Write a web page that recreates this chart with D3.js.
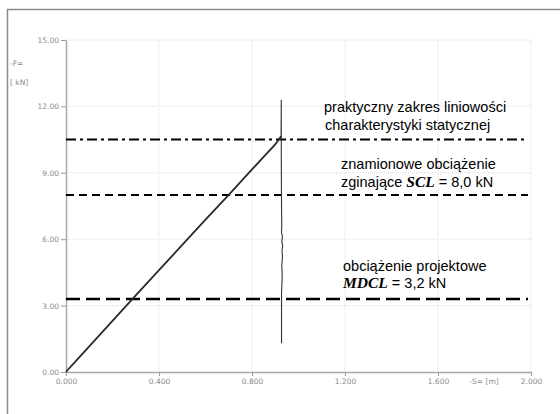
<!DOCTYPE html>
<html><head><meta charset="utf-8">
<script src="https://cdn.jsdelivr.net/npm/d3@7"></script>
<style>
html,body{margin:0;padding:0;background:#fff;}
svg{display:block;}
</style></head>
<body>
<svg id="c" width="560" height="414"></svg>
<script>
// ---- data ----
const xTicks = [0, 0.4, 0.8, 1.2, 1.6, 2.0];
const xTickLabels = ["0.000", "0.400", "0.800", "1.200", "1.600", "2.000"];
const yTicks = [0, 3, 6, 9, 12, 15];
const yTickLabels = ["0.00", "3.00", "6.00", "9.00", "12.00", "15.00"];

// loading curve S [m], F [kN]
const loadS = [0, 0.006, 0.05, 0.1, 0.2, 0.3, 0.4, 0.5, 0.6, 0.7, 0.8, 0.85, 0.9, 0.915, 0.925];
const loadF = [0, 0.08, 0.58, 1.16, 2.31, 3.46, 4.6, 5.74, 6.88, 8.0, 9.15, 9.72, 10.28, 10.5, 10.65];
// vertical break-down spike
const spikeS = [0.925, 0.926, 0.926, 0.927, 0.928, 0.927, 0.931, 0.928, 0.932, 0.929, 0.931, 0.928, 0.930, 0.927, 0.927];
const spikeF = [10.65, 12.3, 9.5, 7.5, 6.6, 6.3, 6.1, 5.9, 5.7, 5.5, 5.2, 4.8, 4.4, 3.5, 1.3];

// reference levels
const refLevels = [10.5, 8.0, 3.3];
const refNames = ["linearity", "SCL", "MDCL"];

// ---- layout ----
const svg = d3.select("#c");
const x = d3.scaleLinear().domain([0, 2]).range([66, 531]);
const y = d3.scaleLinear().domain([0, 15]).range([372, 40]);

// outer frame
svg.append("line").attr("x1", 7).attr("x2", 560).attr("y1", 9.5).attr("y2", 9.5)
  .attr("stroke", "#8a8a8a").attr("stroke-width", 1.5);
svg.append("line").attr("x1", 7.5).attr("x2", 7.5).attr("y1", 9).attr("y2", 414)
  .attr("stroke", "#8a8a8a").attr("stroke-width", 1.5);

// gridlines
const grid = svg.append("g");
xTicks.slice(1).forEach(t => {
  grid.append("line").attr("x1", x(t)).attr("x2", x(t)).attr("y1", y(15)).attr("y2", y(0))
    .attr("stroke", "#dcdcdc").attr("stroke-width", 1).attr("stroke-dasharray", "1,1");
});
yTicks.slice(1).forEach(t => {
  grid.append("line").attr("x1", x(0)).attr("x2", x(2)).attr("y1", y(t)).attr("y2", y(t))
    .attr("stroke", "#dcdcdc").attr("stroke-width", 1).attr("stroke-dasharray", "1,1");
});

// axes
const axStyle = g => {
  g.select(".domain").attr("stroke", "#a8a8a8").attr("stroke-width", 1.5);
  g.selectAll(".tick line").attr("stroke", "#9a9a9a");
  g.selectAll(".tick text").attr("fill", "#8a8a8a").attr("font-family", "DejaVu Sans, sans-serif")
    .attr("font-size", 7.5);
};
svg.append("g").attr("transform", `translate(0,${y(0)})`)
  .call(d3.axisBottom(x).tickValues(xTicks).tickFormat((d, i) => xTickLabels[i])
    .tickSizeInner(4).tickSizeOuter(0).tickPadding(3))
  .call(axStyle);
svg.append("g").attr("transform", `translate(${x(0)},0)`)
  .call(d3.axisLeft(y).tickValues(yTicks).tickFormat((d, i) => yTickLabels[i])
    .tickSizeInner(5).tickSizeOuter(0).tickPadding(2))
  .call(axStyle);

// axis titles
const small = (t, px, py, anchor) => svg.append("text").text(t).attr("x", px).attr("y", py)
  .attr("font-family", "DejaVu Sans, sans-serif").attr("font-size", 7.5).attr("fill", "#8a8a8a")
  .attr("text-anchor", anchor || "start");
small("-F=", 10, 66);
small("[   kN]", 10, 85);
small("-S= [m]", 484, 384, "middle");

// reference lines
const dashes = ["10,4,3,4", "8,5", "14,6"];
const widths = [2, 2, 2.5];
refLevels.forEach((v, i) => {
  svg.append("line").attr("class", refNames[i])
    .attr("x1", x(0)).attr("x2", 528).attr("y1", y(v)).attr("y2", y(v))
    .attr("stroke", "#000").attr("stroke-width", widths[i]).attr("stroke-dasharray", dashes[i]);
});

// curve
const line = d3.line().x(d => x(d[0])).y(d => y(d[1]));
svg.append("path").datum(loadS.map((s, i) => [s, loadF[i]]))
  .attr("d", line).attr("fill", "none").attr("stroke", "#2a2a2a").attr("stroke-width", 1.8);
svg.append("path").datum(spikeS.map((s, i) => [s, spikeF[i]]))
  .attr("d", line).attr("fill", "none").attr("stroke", "#333").attr("stroke-width", 1.1);

// annotations
const ann = (lines, px, py, lh) => {
  const t = svg.append("text").attr("font-family", "Liberation Sans, Arial, sans-serif")
    .attr("font-size", 14.5).attr("fill", "#000");
  lines.forEach((ln, i) => {
    const ts = t.append("tspan").attr("x", px[i]).attr("y", py + i * lh);
    ln.forEach(part => {
      const s = ts.append("tspan").text(part.t);
      if (part.b) s.attr("font-family", "Liberation Serif, Times New Roman, serif")
        .attr("font-weight", "bold").attr("font-style", "italic").attr("font-size", 15.5);
    });
  });
};
ann([[{t: "praktyczny zakres liniowości"}], [{t: "charakterystyki statycznej"}]], [324, 325], 112, 18);
ann([[{t: "znamionowe obciążenie"}], [{t: "zginające "}, {t: "SCL", b: true}, {t: " = 8,0 kN"}]], [341, 341], 169, 18);
ann([[{t: "obciążenie projektowe"}], [{t: "MDCL", b: true}, {t: " = 3,2 kN"}]], [343, 343], 271, 17);
</script>
</body></html>
